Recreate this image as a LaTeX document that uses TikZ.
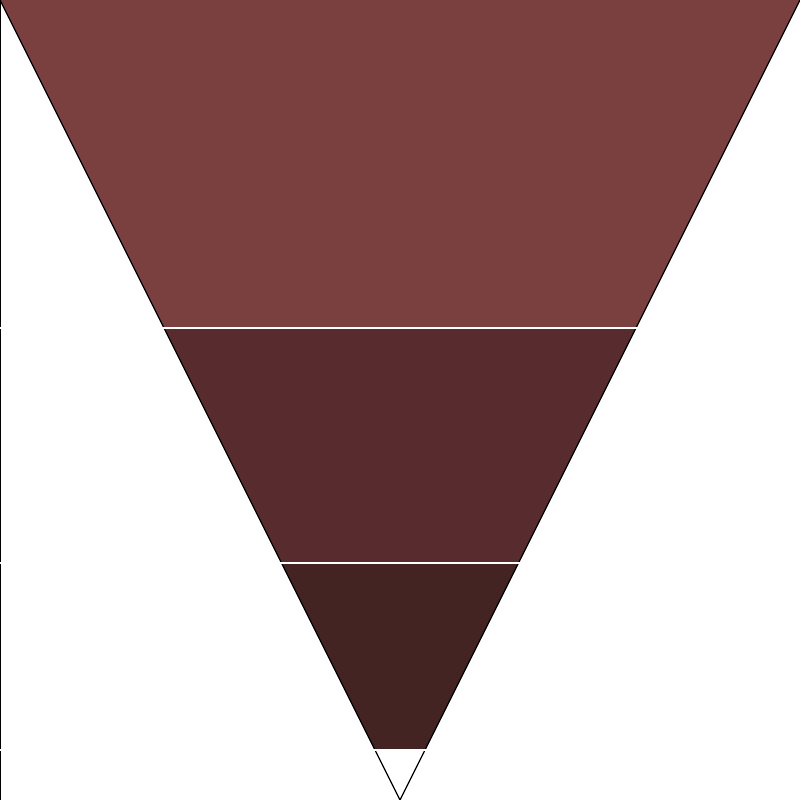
\documentclass[tikz,border=0pt]{standalone}
\usepackage{xcolor}
\usepackage{tikz}
\definecolor{rosetop}{HTML}{7A3F3F}
\definecolor{rosemid}{HTML}{582B2E}
\definecolor{roselow}{HTML}{442323}

\begin{document}
\begin{tikzpicture}[
  x=0.01cm, y=-0.01cm,
  band/.style={draw=none},
  rim/.style={draw=black, line width=0.35pt},
  gap/.style={draw=white, line width=0.6pt}
]
\useasboundingbox (0,0) rectangle (800,800);
% key points of the funnel
\coordinate (TL) at (0,0);
\coordinate (TR) at (800,0);
\coordinate (L1) at (164,328);   \coordinate (R1) at (636,328);
\coordinate (L2) at (281.5,563); \coordinate (R2) at (518.5,563);
\coordinate (L3) at (375,750);   \coordinate (R3) at (425,750);
\coordinate (tip) at (400,800);
% bands
\fill[band, rosetop] (TL) -- (TR) -- (R1) -- (L1) -- cycle;
\fill[band, rosemid] (L1) -- (R1) -- (R2) -- (L2) -- cycle;
\fill[band, roselow] (L2) -- (R2) -- (R3) -- (L3) -- cycle;
\fill[band, white] (L3) -- (R3) -- (tip) -- cycle;
% outline
\draw[rim] (TL) -- (tip) -- (TR);
\draw[rim] (0,0) -- (0,800);
% separators
\foreach \y in {328,563,750}
  \draw[gap] (0,\y) -- (800,\y);
\end{tikzpicture}
\end{document}
